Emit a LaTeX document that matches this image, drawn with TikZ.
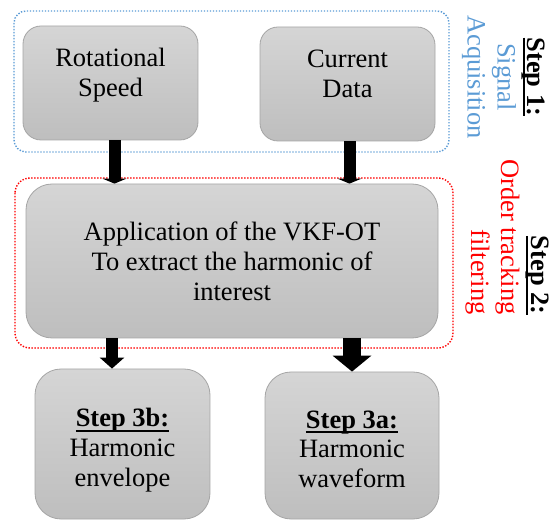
\documentclass[tikz,border=0pt]{standalone}
\usepackage{fontspec}
\setmainfont{Liberation Serif}
\usetikzlibrary{arrows.meta, positioning}

\definecolor{boxtop}{RGB}{213, 213, 213}
\definecolor{boxbot}{RGB}{190, 190, 190}
\definecolor{boxedge}{RGB}{165, 165, 165}
\definecolor{acqblue}{RGB}{91, 155, 213}
\definecolor{otred}{RGB}{255, 0, 0}

% bold step tag with a heavy underline
\newsavebox{\tagbox}
\newcommand{\steptag}[1]{%
  \sbox{\tagbox}{\bfseries #1}%
  \rlap{\rule[-5pt]{\wd\tagbox}{2pt}}\usebox{\tagbox}}
\newcommand{\flowfont}{\fontsize{26.5}{30}\selectfont}
% centred lines, moved up by #1 inside the box
\newcommand{\boxlines}[2]{%
  \raisebox{#1}[\height][\depth]{\begin{tabular}{@{}c@{}}#2\end{tabular}}}

\begin{document}
\begin{tikzpicture}[x=1pt, y=-1pt,
  stepbox/.style={draw=boxedge, line width=0.8pt, top color=boxtop, bottom color=boxbot,
    inner sep=0pt, font=\flowfont},
  groupframe/.style={line width=1.4pt, dash pattern=on 1.4pt off 1.6pt},
  flowarrow/.style={line width=12pt, -{Triangle[width=24pt, length=5pt]}},
  bigarrow/.style={line width=18pt, -{Triangle[width=38pt, length=16pt]}}
]
  \useasboundingbox (0, 0) rectangle (552, 521);

  % step 1: signal acquisition
  \draw[groupframe, acqblue, rounded corners=12pt] (14, 11) rectangle (449, 152);
  \node[stepbox, rounded corners=18pt, minimum width=175pt, minimum height=114pt] (rot) at (110.5, 83)
    {\boxlines{7pt}{Rotational\\Speed}};
  \node[stepbox, rounded corners=18pt, minimum width=175pt, minimum height=114pt] (cur) at (347.5, 84)
    {\boxlines{7pt}{Current\\Data}};
  \node[rotate=-90, align=center, font=\flowfont, inner sep=0pt] (s1) at (503.5, 77)
    {\steptag{Step 1:}\\\textcolor{acqblue}{Signal}\\\textcolor{acqblue}{Acquisition}};

  % step 2: order tracking filter
  \draw[groupframe, otred, rounded corners=15pt] (15, 178) rectangle (453, 348);
  \node[stepbox, rounded corners=26pt, minimum width=412pt, minimum height=154pt] (app) at (232, 261)
    {\boxlines{-3.5pt}{Application of the VKF-OT\\To extract the harmonic of\\interest}};
  \node[rotate=-90, align=right, font=\flowfont, inner sep=0pt] (s2) at (507, 237)
    {\steptag{Step 2:}\\\textcolor{otred}{Order tracking}\\\textcolor{otred}{filtering}};

  % step 3: outputs
  \node[stepbox, rounded corners=26pt, minimum width=175pt, minimum height=150pt] (env) at (122.5, 444)
    {\boxlines{-6.5pt}{\steptag{Step 3b:}\\Harmonic\\envelope}};
  \node[stepbox, rounded corners=26pt, minimum width=174pt, minimum height=147pt] (wave) at (352, 445.5)
    {\boxlines{-6.5pt}{\steptag{Step 3a:}\\Harmonic\\waveform}};

  % arrows between the steps
  \draw[flowarrow] ([xshift=4pt]rot.south) -- ([xshift=4pt]rot.south |- app.north);
  \draw[flowarrow] ([xshift=2pt]cur.south) -- ([xshift=2pt]cur.south |- app.north);
  \draw[line width=12pt, -{Triangle[width=24pt, length=11pt]}] ([xshift=1.5pt]rot.south |- app.south) -- ([xshift=1.5pt]rot.south |- env.north);
  \draw[bigarrow] (wave.north |- app.south) -- (wave.north);
\end{tikzpicture}
\end{document}
